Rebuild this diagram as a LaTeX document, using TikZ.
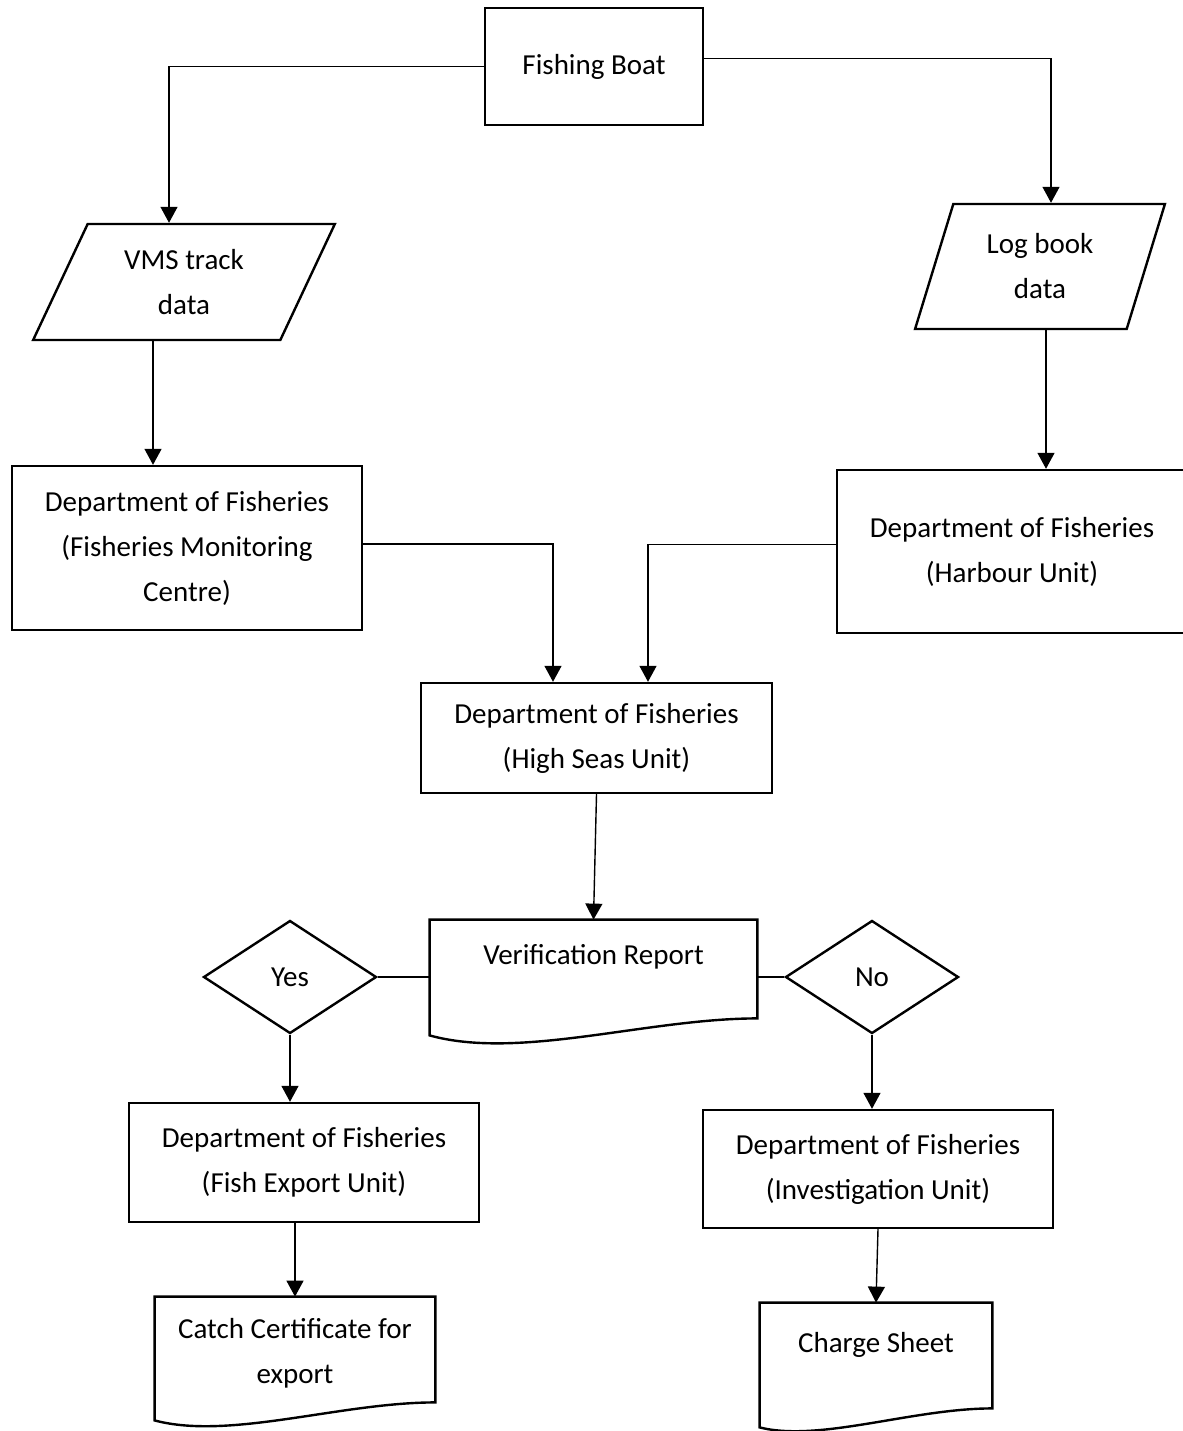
\documentclass[tikz,border=0pt]{standalone}
\usepackage{fontspec}
\setmainfont{Carlito}
\usetikzlibrary{shapes.geometric,arrows.meta,calc}

\begin{document}
\begin{tikzpicture}[x=0.5pt,y=-0.5pt,
  every node/.style={font=\fontsize{14.5}{22.5}\selectfont,align=center,inner sep=0pt},
  procbox/.style={draw,line width=1.2pt,rectangle,minimum width=175pt},
  databox/.style={draw,line width=1.2pt,trapezium,trapezium stretches=true},
  decision/.style={draw,line width=1.2pt,diamond,aspect=1.53,minimum width=86.5pt,minimum height=56.5pt},
  docline/.style={line width=1.2pt},
  flow/.style={line width=0.7pt,-{Triangle[length=8pt,width=8.5pt]}},
  linkline/.style={line width=0.7pt}]
\useasboundingbox (0,0) rectangle (1183,1431);

% boxes
\node[procbox,minimum width=109pt,minimum height=58.5pt] (boat) at (594,66.5) {Fishing Boat};
\node[databox,minimum width=152pt,minimum height=58pt,trapezium left angle=62.6,trapezium right angle=117.4] (vms) at (184,282) {VMS track\\data};
\node[databox,minimum width=125pt,minimum height=62.5pt,trapezium left angle=70.2,trapezium right angle=109.8] (log) at (1040,266.5) {Log book\\data};
\node[procbox,minimum height=82pt] (fmc) at (187,548) {Department of Fisheries\\(Fisheries Monitoring\\Centre)};
\node[procbox,minimum height=81.5pt] (hu) at (1012,551.5) {Department of Fisheries\\(Harbour Unit)};
\node[procbox,minimum width=175.5pt,minimum height=55pt] (hs) at (596.5,738) {Department of Fisheries\\(High Seas Unit)};
\node[minimum width=163.5pt,minimum height=37pt] (vr) at (593.5,957) {Verification Report};
\node[decision] (yes) at (290,977) {Yes};
\node[decision] (no) at (872,977) {No};
\node[procbox,minimum height=59.5pt] (fe) at (304,1162.5) {Department of Fisheries\\(Fish Export Unit)};
\node[procbox,minimum height=59pt] (iu) at (878,1169) {Department of Fisheries\\(Investigation Unit)};
\node[minimum width=140pt,minimum height=56pt] (cc) at (295,1353) {Catch Certificate for\\export};
\node[minimum width=116pt,minimum height=42pt] (cs) at (876,1345) {Charge Sheet};

% document outlines
\draw[docline] (vr.north west) -- (vr.north east) -- ($(vr.south east)+(0,24)$)
  .. controls +(-110,0) and +(90,25) .. ($(vr.south west)+(0,41)$) -- cycle;
\draw[docline] (cc.north west) -- (cc.north east) -- ($(cc.south east)+(0,-7)$)
  .. controls +(-95,0) and +(75,20) .. ($(cc.south west)+(0,11)$) -- cycle;
\draw[docline] (cs.north west) -- (cs.north east) -- ($(cs.south east)+(0,21)$)
  .. controls +(-80,0) and +(60,15) .. ($(cs.south west)+(0,40)$) -- cycle;

% connectors
\draw[flow] (boat.west) -| ([xshift=-7.5pt]vms.north);
\draw[flow] ([yshift=4pt]boat.east) -| ([xshift=5.5pt]log.north);
\draw[flow] ([xshift=-15.5pt]vms.south) -- ([xshift=-15.5pt]vms.south |- fmc.north);
\draw[flow] ([xshift=3pt]log.south) -- ([xshift=3pt]log.south |- hu.north);
\draw[flow] ([yshift=2pt]fmc.east) -| ([xshift=-21.75pt]hs.north);
\draw[flow] ([yshift=3.5pt]hu.west) -| ([xshift=25.75pt]hs.north);
\draw[flow] (hs.south) -- (vr.north);
\draw[linkline] (yes.east) -- (yes.east -| vr.west);
\draw[linkline] (no.west) -- (no.west -| vr.east);
\draw[flow] (yes.south) -- (yes.south |- fe.north);
\draw[flow] (no.south) -- (no.south |- iu.north);
\draw[flow] (cc.north |- fe.south) -- (cc.north);
\draw[flow] (iu.south) -- (cs.north);
\end{tikzpicture}
\end{document}
